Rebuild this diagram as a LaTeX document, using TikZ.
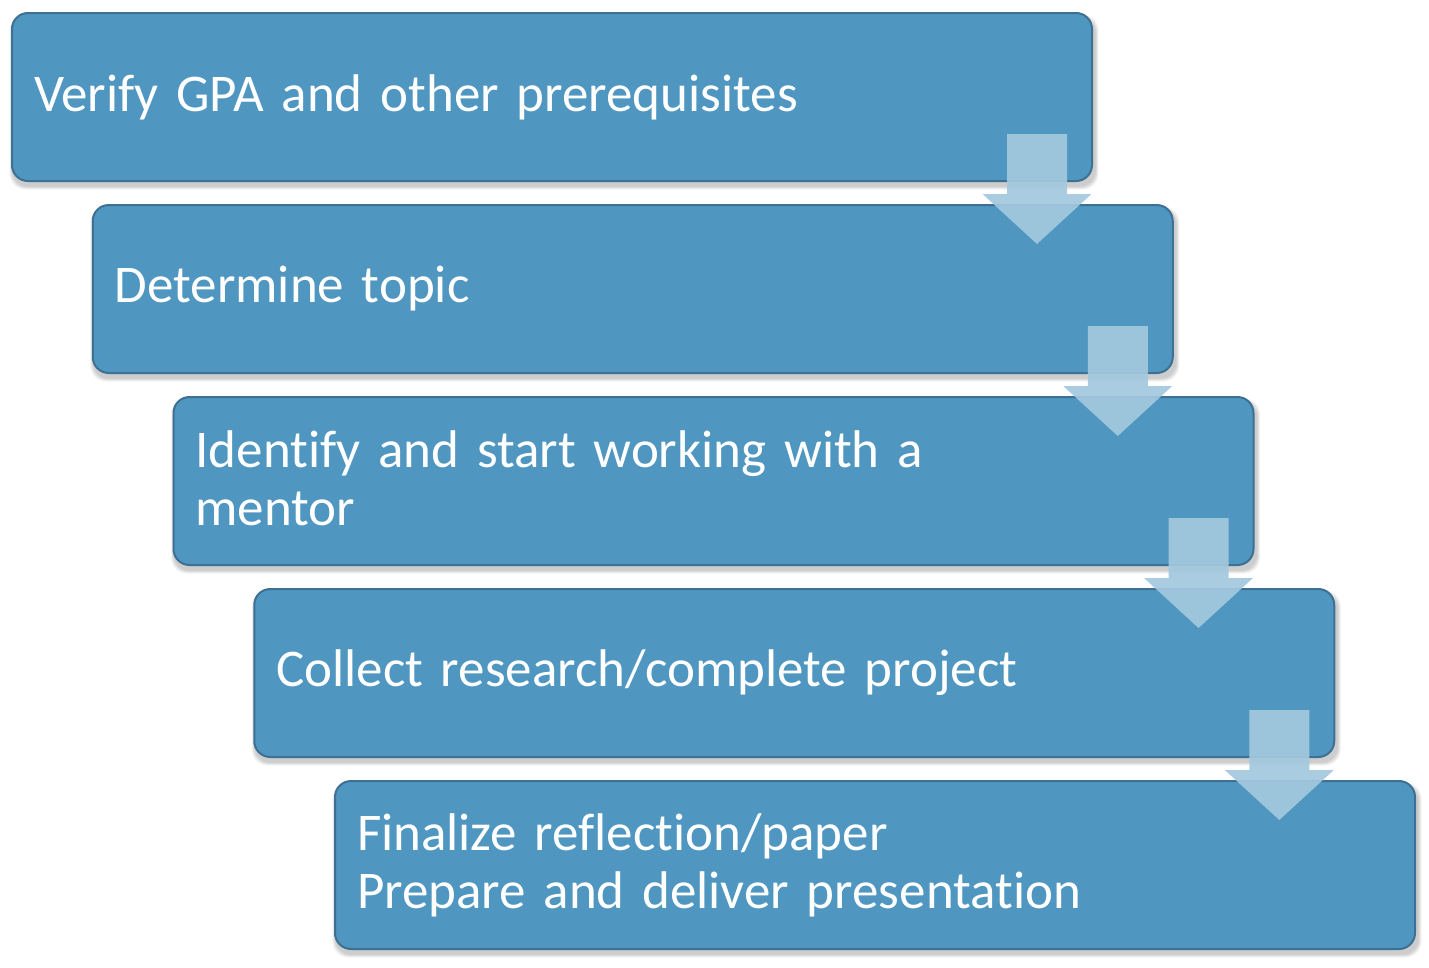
\documentclass[tikz,border=0pt]{standalone}
\usepackage{fontspec}
\setmainfont[Ligatures=NoCommon,WordSpace=0.75]{Carlito}
\usetikzlibrary{backgrounds}
\definecolor{boxfill}{HTML}{4F96C0}
\definecolor{boxline}{HTML}{3D7093}
\definecolor{arrowfill}{HTML}{A3C8DE}
\tikzset{
  stepbox/.style={draw=boxline, line width=2pt, fill=boxfill, rounded corners=16pt,
    minimum width=1080pt, minimum height=168pt, inner xsep=21pt, inner ysep=0pt,
    text width=1036pt, align=left, text=white, anchor=north west,
    font=\fontsize{53}{58}\selectfont},
  flowarrow/.style={fill=arrowfill, opacity=0.92},
}
\begin{document}
\begin{tikzpicture}[x=1pt,y=-1pt]
\useasboundingbox (0,0) rectangle (1429,967);
\node[stepbox] (b1) at (11,12) {Verify GPA and other prerequisites};
\node[stepbox] (b2) at (91.75,204) {Determine topic};
\node[stepbox] (b3) at (172.5,396) {\raisebox{5pt}{\parbox[b]{1036pt}{Identify and start working with a\\mentor}}};
\node[stepbox] (b4) at (253.25,588) {Collect research/complete project};
\node[stepbox] (b5) at (334,780) {Finalize reflection/paper\\Prepare and deliver presentation};
\begin{scope}[on background layer]
  \foreach \i in {1,...,5}{
    \foreach \k in {1,...,6}{
      \fill[black, opacity=0.035, rounded corners=16pt]
        ([xshift=-\k*0.6pt+2pt, yshift=\k*0.6pt-6pt]b\i.north west)
        rectangle ([xshift=\k*0.6pt+2pt, yshift=-\k*0.6pt-4pt]b\i.south east);
    }
  }
\end{scope}
\foreach \i in {0,...,3}{
  \pgfmathsetmacro{\cx}{1037+80.75*\i}
  \pgfmathsetmacro{\ty}{134+192*\i}
  \fill[flowarrow] (\cx-30,\ty) -- (\cx+30,\ty) -- (\cx+30,\ty+60) -- (\cx+54.5,\ty+60)
    -- (\cx,\ty+110) -- (\cx-54.5,\ty+60) -- (\cx-30,\ty+60) -- cycle;
}
\end{tikzpicture}
\end{document}
